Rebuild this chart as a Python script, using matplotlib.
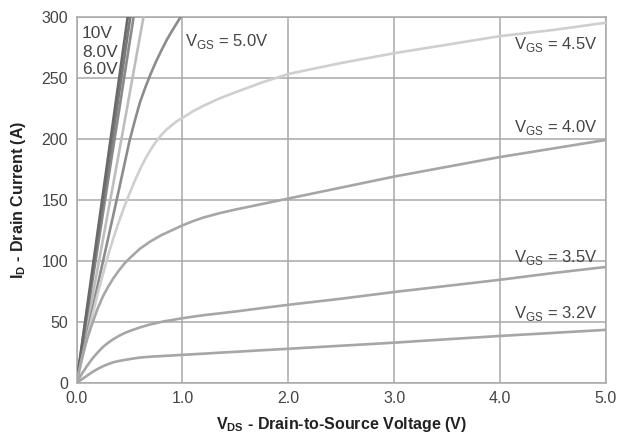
import matplotlib

matplotlib.use("Agg")
import matplotlib.pyplot as plt

plt.rcParams["font.family"] = ["Liberation Sans", "DejaVu Sans"]
plt.rcParams["mathtext.fontset"] = "custom"
plt.rcParams["mathtext.rm"] = "Liberation Sans"
plt.rcParams["mathtext.bf"] = "Liberation Sans:bold"

# output characteristics
vds_steep = [0.0, 0.1, 0.2, 0.3, 0.4, 0.5, 0.6, 0.7]
id_10v = [0, 62, 124, 186, 248, 310, 372, 434]
id_8v = [0, 59, 118, 177, 236, 295, 354, 413]
id_6v = [0, 56, 111, 167, 222, 278, 333, 389]
id_5v5 = [0, 47, 94, 141, 188, 236, 284, 332]

vds_5v = [0.0, 0.05, 0.1, 0.15, 0.2, 0.25, 0.3, 0.35, 0.4, 0.45, 0.5, 0.55,
          0.6, 0.65, 0.7, 0.75, 0.8, 0.85, 0.9, 0.95, 1.0, 1.05, 1.1]
id_5v = [0, 20, 40, 60, 80, 99.5, 119, 138.5, 158, 178, 198, 214.5,
         230, 242, 253, 263, 272, 280.5, 288, 295, 302, 308, 315]

vds = [0.0, 0.05, 0.1, 0.15, 0.2, 0.25, 0.3, 0.35, 0.4, 0.45, 0.5, 0.55,
       0.6, 0.65, 0.7, 0.75, 0.8, 0.85, 0.9, 0.95, 1.0, 1.1, 1.2, 1.35,
       1.5, 1.75, 2.0, 2.5, 3.0, 3.5, 4.0, 4.5, 5.0]
id_4v5 = [0, 18.5, 37, 55, 73, 89, 105, 119, 132, 144, 155, 165.5,
          175, 183.5, 191, 197.5, 203, 207.5, 211, 214.5, 217, 222.5, 227, 233,
          238, 246, 253, 262, 270, 277, 284, 289, 295]
id_4v0 = [0, 20, 36, 49, 61, 71, 79, 86, 92, 97.5, 102, 106,
          110, 113, 116, 118.5, 121, 123, 125, 127, 129, 132.5, 135.5, 139,
          142, 146.5, 151, 160, 169, 177, 185, 192, 199]
id_3v5 = [0, 7.5, 14, 20, 25, 29.5, 33, 36, 38.5, 40.7, 42.5, 44,
          45.5, 46.8, 48, 49, 50, 50.8, 51.5, 52.3, 53, 54.3, 55.5, 57,
          58.5, 61.3, 64, 69, 74.5, 79.5, 84.5, 90, 95]
id_3v2 = [0, 3, 6, 9, 11.5, 13.7, 15.5, 17, 18, 18.8, 19.5, 20.2,
          20.8, 21.2, 21.5, 21.8, 22, 22.3, 22.5, 22.8, 23, 23.5, 24, 24.8,
          25.5, 26.8, 28, 30.5, 33, 35.8, 38.5, 41, 43.5]

x_ticks = [0, 1, 2, 3, 4, 5]
x_ticklabels = ["0.0", "1.0", "2.0", "3.0", "4.0", "5.0"]
y_ticks = [0, 50, 100, 150, 200, 250, 300]

GRID = "#a8a8a8"
TXT = "#454545"

fig = plt.figure(figsize=(6.17, 4.46), dpi=100)
ax = fig.add_axes([0.124, 0.1413, 0.858, 0.8215])

lw = 1.9
ax.plot(vds_steep, id_5v5, color="#bdbdbd", lw=lw, zorder=3)
ax.plot(vds_steep, id_6v, color="#8a8a8a", lw=lw, zorder=3)
ax.plot(vds_steep, id_8v, color="#7a7a7a", lw=lw, zorder=3)
ax.plot(vds_steep, id_10v, color="#6a6a6a", lw=lw, zorder=3)
ax.plot(vds_5v, id_5v, color="#8c8c8c", lw=lw, zorder=3)
ax.plot(vds, id_4v5, color="#cfcfcf", lw=lw, zorder=3)
ax.plot(vds, id_4v0, color="#a6a6a6", lw=lw, zorder=3)
ax.plot(vds, id_3v5, color="#a6a6a6", lw=lw, zorder=3)
ax.plot(vds, id_3v2, color="#a6a6a6", lw=lw, zorder=3)

ax.set_xlim(0, 5)
ax.set_ylim(0, 300)
ax.set_xticks(x_ticks)
ax.set_xticklabels(x_ticklabels)
ax.set_yticks(y_ticks)
ax.tick_params(length=0, labelsize=11.5, labelcolor=TXT, pad=6)
ax.grid(True, color=GRID, lw=1.1, zorder=1)
ax.set_axisbelow(True)
for sp in ax.spines.values():
    sp.set_color(GRID)
    sp.set_linewidth(1.1)

ax.set_xlabel(r"V$_{\mathbf{DS}}$ - Drain-to-Source Voltage (V)",
              fontsize=11.5, fontweight="bold", color="#222", labelpad=6)
ax.set_ylabel(r"I$_{\mathbf{D}}$ - Drain Current (A)",
              fontsize=11.5, fontweight="bold", color="#222", labelpad=10)

fs = 12
ax.text(0.05, 286, "10V", fontsize=12.5, color=TXT, va="center", zorder=4)
ax.text(0.05, 271, "8.0V", fontsize=12.5, color=TXT, va="center", zorder=4)
ax.text(0.05, 257, "6.0V", fontsize=12.5, color=TXT, va="center", zorder=4)
ax.text(1.02, 280, r"V$_{\mathrm{GS}}$ = 5.0V", fontsize=fs, color=TXT,
        va="center", zorder=4)
for y, lab in [(277, "4.5V"), (209, "4.0V"), (103, "3.5V"), (57, "3.2V")]:
    ax.text(4.92, y, r"V$_{\mathrm{GS}}$ = " + lab, fontsize=fs, color=TXT,
            va="center", ha="right", zorder=4)

fig.savefig("out.png", dpi=100)
